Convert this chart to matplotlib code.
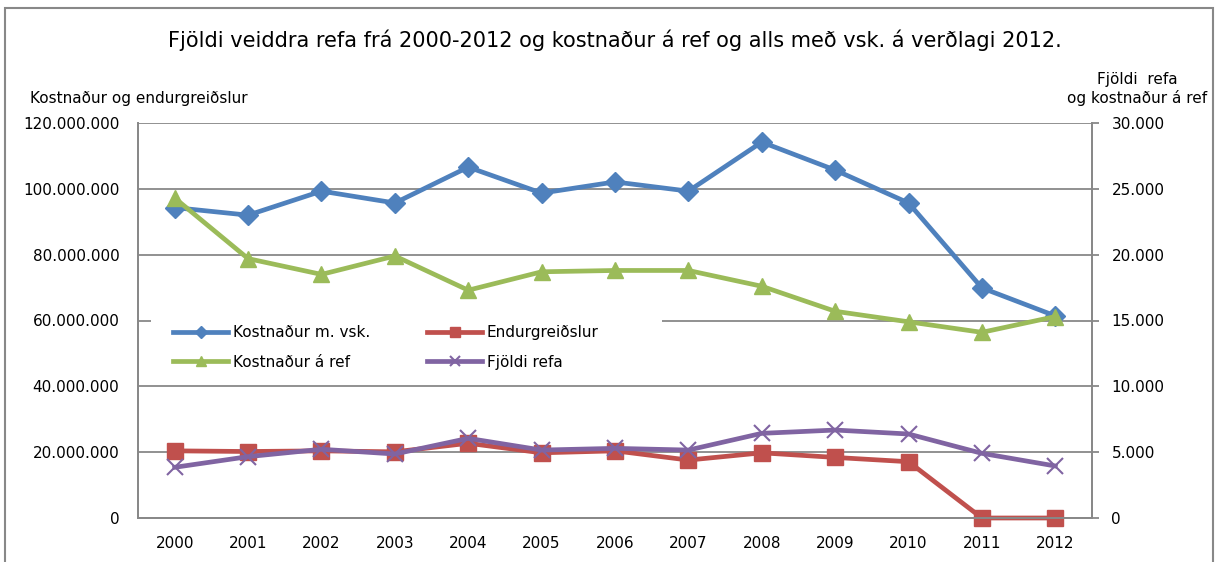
import matplotlib
matplotlib.use("Agg")
import matplotlib.pyplot as plt
from matplotlib.ticker import FuncFormatter, MultipleLocator
from matplotlib.patches import Rectangle

# gögn lesin af myndinni
ar = ["2000", "2001", "2002", "2003", "2004", "2005", "2006",
      "2007", "2008", "2009", "2010", "2011", "2012"]
kostnadur_vsk = [94.3e6, 92.0e6, 99.3e6, 95.7e6, 106.6e6, 98.7e6, 102.1e6,
                 99.3e6, 114.2e6, 105.7e6, 95.7e6, 69.9e6, 61.4e6]
endurgreidslur = [20.4e6, 20.2e6, 20.4e6, 20.1e6, 22.7e6, 19.8e6, 20.4e6,
                  17.6e6, 19.8e6, 18.4e6, 17.1e6, 0, 0]
kostnadur_ref = [24300, 19700, 18500, 19900, 17300, 18700, 18800,
                 18800, 17600, 15700, 14900, 14100, 15300]
fjoldi_refa = [3850, 4660, 5220, 4860, 6050, 5160, 5290,
               5160, 6430, 6680, 6380, 4910, 3950]

plt.rcParams['font.family'] = ['DejaVu Sans']
grey = "#888888"

def dotfmt(v, pos):
    return f"{int(round(v)):,}".replace(",", ".")

fig = plt.figure(figsize=(12.17, 5.62), dpi=100)
# rammi utan um allt
fig.patches.append(Rectangle((5/1217, -0.1), 1208/1217, 1.1 - 8/562,
                             transform=fig.transFigure, fill=False,
                             edgecolor=grey, linewidth=1.5))

ax = fig.add_axes([138/1217, 1 - 518/562, 954/1217, 395/562])
ax2 = ax.twinx()

x = range(len(ar))
ax.plot(x, kostnadur_vsk, color="#4F81BD", lw=3.4, marker="D", ms=10,
        label="Kostnaður m. vsk.", clip_on=False)
ax.plot(x, endurgreidslur, color="#C0504D", lw=3.4, marker="s", ms=12,
        label="Endurgreiðslur", clip_on=False)
ax2.plot(x, kostnadur_ref, color="#9BBB59", lw=3.4, marker="^", ms=12,
         label="Kostnaður á ref", clip_on=False)
ax2.plot(x, fjoldi_refa, color="#8064A2", lw=3.4, marker="x", ms=12, mew=1.5,
         label="Fjöldi refa", clip_on=False)

ax.set_xlim(-0.5, len(ar) - 0.5)
ax.set_ylim(0, 120e6)
ax2.set_ylim(0, 30000)
ax.yaxis.set_major_locator(MultipleLocator(20e6))
ax2.yaxis.set_major_locator(MultipleLocator(5000))
ax.yaxis.set_major_formatter(FuncFormatter(dotfmt))
ax2.yaxis.set_major_formatter(FuncFormatter(dotfmt))
ax.set_xticks(list(x))
ax.set_xticklabels(ar)

ax.grid(axis="y", color=grey, lw=1.3)
ax.set_axisbelow(True)
for a in (ax, ax2):
    a.spines["top"].set_visible(False)
    for s in ("left", "right", "bottom"):
        a.spines[s].set_color(grey)
        a.spines[s].set_linewidth(1.3)
ax.tick_params(axis="y", length=0, labelsize=11, pad=13.5)
ax2.tick_params(axis="y", colors=grey, labelcolor="black", labelsize=11,
                length=5, width=1.3, pad=9)
ax.tick_params(axis="x", length=0, labelsize=11, pad=13)

fig.text(615/1217, 1 - 40/562,
         "Fjöldi veiddra refa frá 2000-2012 og kostnaður á ref og alls með vsk. á verðlagi 2012.",
         ha="center", va="center", fontsize=15)
fig.text(30/1217, 1 - 98/562, "Kostnaður og endurgreiðslur",
         ha="left", va="center", fontsize=11)
fig.text(1207/1217, 1 - 89/562, "Fjöldi  refa\nog kostnaður á ref",
         ha="right", va="center", fontsize=11, multialignment="center",
         linespacing=1.3)

# hvítur bakgrunnur skýringa (brýtur hnitalínuna við 60 m.)
ax2.add_patch(Rectangle((0.0137, 0.345), 0.536, 0.16, transform=ax2.transAxes,
                        facecolor="white", edgecolor="none", zorder=2.5))

h1, l1 = ax.get_legend_handles_labels()
h2, l2 = ax2.get_legend_handles_labels()
handles = [h1[0], h2[0], h1[1], h2[1]]
labels = [l1[0], l2[0], l1[1], l2[1]]
leg = ax2.legend(handles, labels, ncol=2, loc="upper left",
                 bbox_to_anchor=(0.0368, 0.488), frameon=False,
                 fontsize=11, handlelength=3.6, handletextpad=0.3,
                 columnspacing=3.75, borderaxespad=0, borderpad=0,
                 labelspacing=0.95, markerscale=0.65)
leg.set_zorder(5)

fig.savefig("out.png", dpi=100)
